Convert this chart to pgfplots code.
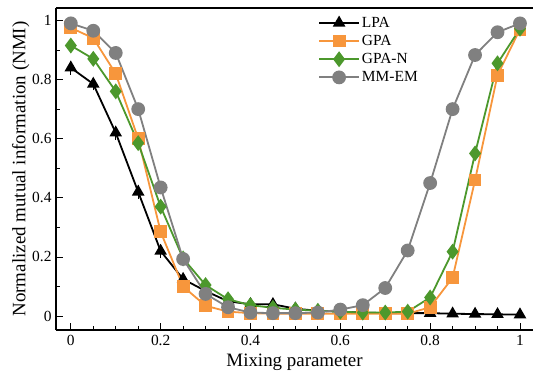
\documentclass[border=0pt]{standalone}
\usepackage{fontspec}
\setmainfont{Liberation Serif}
\usepackage{pgfplots}
\pgfplotsset{compat=1.18}
\definecolor{cOrange}{RGB}{247,150,60}
\definecolor{cGreen}{RGB}{76,152,44}
\definecolor{cGray}{RGB}{128,128,128}
\begin{document}
\begin{tikzpicture}
\begin{axis}[name=ax, at={(0,0)}, anchor=south west,
  scale only axis, width=477bp, height=322bp,
  xmin=-0.033, xmax=1.029, ymin=-0.047, ymax=1.042,
  axis x line*=bottom, axis y line*=left,
  axis line style={line width=1.3bp, -},
  every outer x axis line/.append style={-},
  every outer y axis line/.append style={-},
  xtick={0,0.2,0.4,0.6,0.8,1}, minor x tick num=3,
  ytick={0,0.2,0.4,0.6,0.8,1}, minor y tick num=1,
  tick align=inside,
  major tick length=7bp, minor tick length=4bp,
  tick style={black, line width=0.8bp},
  /pgf/number format/assume math mode=true,
  ticklabel style={font=\fontsize{15.5}{17}\selectfont},
  xticklabel style={yshift=-2bp},
  yticklabel style={xshift=-1bp},
  label style={font=\fontsize{19}{21}\selectfont},
  xlabel={Mixing parameter}, ylabel={Normalized mutual information (NMI)},
  xlabel style={yshift=-1bp},
  ylabel style={yshift=-4bp},
  legend style={draw=none, fill=none, at={(0.543,0.985)}, anchor=north west,
    font=\fontsize{15.5}{17}\selectfont, row sep=2.5bp},
  legend cell align=left,
  legend image code/.code={\draw[mark repeat=2,mark phase=2] plot coordinates {(0bp,0bp)(20bp,0bp)(40bp,0bp)};},
  every axis plot/.append style={line width=1.8bp},
]
\addplot[black, mark=triangle*, mark size=5.5bp, mark options={solid, fill=black},
  error bars/.cd, y dir=both, y explicit, error mark options={line width=1.2bp, mark size=4bp}]
  coordinates {(0,0.840)+-(0,0.010)(0.05,0.785)+-(0,0.008)(0.1,0.620)+-(0,0.010)(0.15,0.420)+-(0,0.010)(0.2,0.220)+-(0,0.010)(0.25,0.125)+-(0,0.008)(0.3,0.085)+-(0,0.006)(0.35,0.050)(0.4,0.040)(0.45,0.040)(0.5,0.025)(0.55,0.018)(0.6,0.015)(0.65,0.012)(0.7,0.010)(0.75,0.010)(0.8,0.010)(0.85,0.008)(0.9,0.007)(0.95,0.006)(1,0.005)};
\addlegendentry{LPA}
\addplot[cOrange, mark=square*, mark size=5.5bp, mark options={solid, fill=cOrange}]
  coordinates {(0,0.975)(0.05,0.940)(0.1,0.820)(0.15,0.600)(0.2,0.285)(0.25,0.100)(0.3,0.035)(0.35,0.015)(0.4,0.010)(0.45,0.008)(0.5,0.008)(0.55,0.008)(0.6,0.008)(0.65,0.008)(0.7,0.008)(0.75,0.008)(0.8,0.030)(0.85,0.130)(0.9,0.460)(0.95,0.815)(1,0.970)};
\addlegendentry{GPA}
\addplot[cGreen, mark=diamond*, mark size=6.5bp, mark options={solid, fill=cGreen}]
  coordinates {(0,0.915)(0.05,0.870)(0.1,0.760)(0.15,0.585)(0.2,0.370)(0.25,0.195)(0.3,0.105)(0.35,0.057)(0.4,0.037)(0.45,0.028)(0.5,0.022)(0.55,0.018)(0.6,0.015)(0.65,0.012)(0.7,0.012)(0.75,0.015)(0.8,0.063)(0.85,0.218)(0.9,0.550)(0.95,0.855)(1,0.972)};
\addlegendentry{GPA-N}
\addplot[cGray, mark=*, mark size=6bp, mark options={solid, fill=cGray}]
  coordinates {(0,0.990)(0.05,0.965)(0.1,0.890)(0.15,0.700)(0.2,0.435)(0.25,0.193)(0.3,0.075)(0.35,0.030)(0.4,0.012)(0.45,0.010)(0.5,0.010)(0.55,0.012)(0.6,0.022)(0.65,0.037)(0.7,0.095)(0.75,0.222)(0.8,0.450)(0.85,0.700)(0.9,0.883)(0.95,0.960)(1,0.990)};
\addlegendentry{MM-EM}
\draw[line width=1.3bp] (rel axis cs:0,1) -- (rel axis cs:1,1);
\end{axis}
\pgfresetboundingbox
\path[use as bounding box] (-56bp,-44bp) rectangle (477bp,330bp);
\end{tikzpicture}
\end{document}
